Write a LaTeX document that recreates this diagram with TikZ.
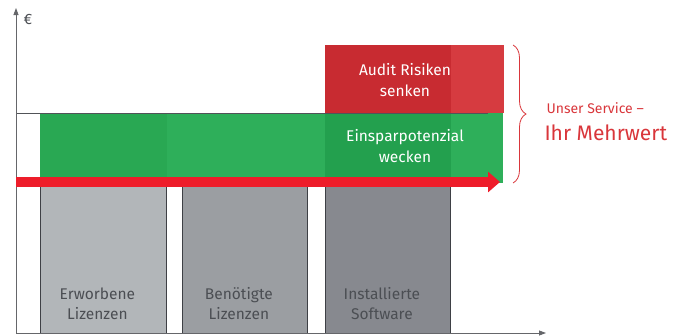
\documentclass[tikz,border=0pt]{standalone}
\usepackage{fontspec}
\setmainfont{Fira Sans}
\usetikzlibrary{arrows.meta,decorations.pathreplacing,positioning}
\definecolor{barA}{HTML}{B2B6B9}
\definecolor{barB}{HTML}{9B9EA2}
\definecolor{barC}{HTML}{87898F}
\definecolor{barline}{HTML}{3E4045}
\definecolor{bartxt}{HTML}{4B4E53}
\definecolor{greenA}{HTML}{2EAF5A}
\definecolor{greenB}{HTML}{29A853}
\definecolor{greenC}{HTML}{23A04E}
\definecolor{redA}{HTML}{D63B40}
\definecolor{redB}{HTML}{C82B31}
\definecolor{arrowred}{HTML}{EE1D2A}
\definecolor{bracered}{HTML}{D9363B}

\begin{document}
\begin{tikzpicture}[x=1pt,y=-1pt,
  bar/.style={draw=barline, line width=0.8pt, anchor=north west, inner sep=0pt},
  zone/.style={anchor=north west, inner sep=0pt},
  bartext/.style={text=bartxt, align=center, font=\fontsize{15.5}{20}\selectfont},
  zonetext/.style={text=white, align=center, font=\fontsize{15.5}{21}\selectfont},
  axis/.style={draw=barline!80, line width=0.8pt, -{Triangle[length=7pt,width=5pt]}}]
\useasboundingbox (0,0) rectangle (680,335);

% balken
\node[bar, fill=barA, minimum width=126, minimum height=220] (erworben) at (40,113) {};
\node[bar, fill=barB, minimum width=125, minimum height=150] (benoetigt) at (182,183) {};
\node[bar, fill=barC, minimum width=125, minimum height=288] (installiert) at (325,45) {};

\node[bartext] at ([xshift=-6pt,yshift=30pt]erworben.south) {Erworbene\\Lizenzen};
\node[bartext] at ([xshift=-6pt,yshift=30pt]benoetigt.south) {Benötigte\\Lizenzen};
\node[bartext] at ([xshift=-6pt,yshift=30pt]installiert.south) {Installierte\\Software};

% flaechen
\node[zone, fill=redA, minimum width=179, minimum height=68] (audit) at (325,45) {};
\node[zone, fill=greenA, minimum width=463, minimum height=70] (einspar) at (40,113) {};
\fill[redB] (audit.north west) rectangle (installiert.east |- audit.south);
\fill[greenB] (einspar.north west) rectangle (erworben.east |- einspar.south);
\fill[greenC] (installiert.west |- einspar.north) rectangle (installiert.east |- einspar.south);
\node[zonetext] at (405,80) {Audit Risiken\\senken};
\node[zonetext] at (405,146) {Einsparpotenzial\\wecken};

% achsen
\coordinate (origin) at (16,333);
\coordinate (ytop) at (16,8);
\coordinate (xend) at (546,333);
\coordinate (level) at (488,113);
\draw[barline!90, line width=0.7pt] (origin |- level) -- (level);
\draw[axis] (origin) -- (ytop);
\draw[axis] (origin) -- (xend);
\node[text=bartxt, font=\fontsize{15}{15}\selectfont] (euro) at (28,19) {€};

% pfeil
\coordinate (pstart) at (16,182);
\coordinate (pend) at (500,182);
\draw[arrowred, line width=10pt, -{Triangle[length=12pt,width=20pt]}] (pstart) -- (pend);

% klammer
\coordinate (btop) at (513,45);
\coordinate (bbot) at (513,183);
\draw[bracered, line width=0.8pt, decorate, decoration={brace, amplitude=13pt}] (btop) -- (bbot);
\node[anchor=base west, text=bracered, font=\fontsize{14}{14}\selectfont] (service) at (543,113) {Unser Service –};
\node[anchor=base west, text=bracered, font=\fontsize{21}{21}\selectfont] (mehrwert) at (541,140) {Ihr Mehrwert};
\end{tikzpicture}
\end{document}
